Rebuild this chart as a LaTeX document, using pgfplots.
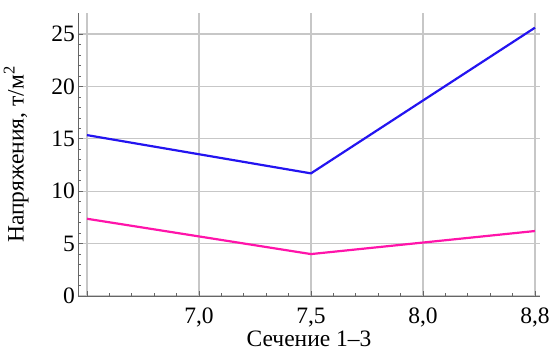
\documentclass[border=0pt]{standalone}
\usepackage{fontspec}
\setmainfont{Liberation Serif}
\usepackage{pgfplots}
\pgfplotsset{compat=1.18}
\definecolor{lblue}{RGB}{35,20,240}
\definecolor{lmag}{RGB}{255,20,170}
\begin{document}
\fontsize{23.5}{28}\selectfont
\begin{tikzpicture}
\begin{axis}[
  scale only axis, width=462pt, height=283pt,
  xmin=-0.08, xmax=4.045, ymin=0, ymax=27,
  axis lines=left,
  axis line style={-, draw=black!60, line width=0.8pt},
  xtick={0,1,2,3,4}, xticklabels={,{7,0},{7,5},{8,0},{8,8}},
  ytick={0,5,10,15,20,25},
  minor x tick num=4, minor y tick num=4,
  grid=major, major grid style={draw=black!22, line width=1.3pt},
  tick align=inside, tick style={black!60, line width=0.6pt},
  major tick length=5pt, minor tick length=3pt,
  tick label style={font=\fontsize{23.5}{28}\selectfont},
  label style={font=\fontsize{23.5}{28}\selectfont},
  /pgf/number format/assume math mode=true,
  xlabel={Сечение 1–3},
  ylabel={Напряжения, т/м\textsuperscript{2}},
  xlabel style={yshift=12pt},
  ylabel style={yshift=7pt},
  xticklabel style={yshift=-4pt},
  yticklabel style={xshift=5pt},
]
\addplot[draw=lblue, line width=2.2pt] coordinates {(0,15.35) (2,11.7) (4,25.6)};
\addplot[draw=lmag, line width=2.2pt] coordinates {(0,7.37) (2,4.0) (4,6.2)};
\coordinate (O) at (rel axis cs:0,0);
\end{axis}
\pgfresetboundingbox
\path (O) ++(-78pt,-58pt) rectangle ++(551pt,354pt);
\end{tikzpicture}
\end{document}
